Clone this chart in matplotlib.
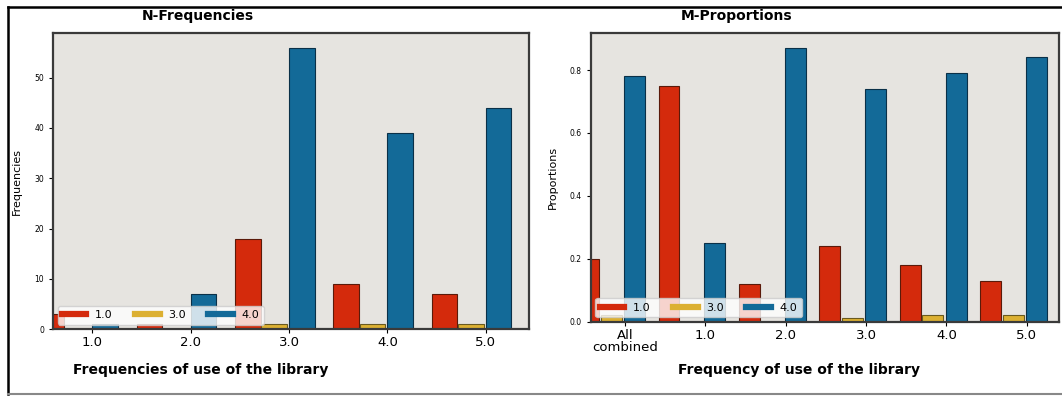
import numpy as np
import matplotlib
matplotlib.use('Agg')
import matplotlib.pyplot as plt
from matplotlib.lines import Line2D

# datos
categorias_n = ['1.0', '2.0', '3.0', '4.0', '5.0']
frec_10 = [3, 1, 18, 9, 7]
frec_30 = [0, 0, 1, 1, 1]
frec_40 = [1, 7, 56, 39, 44]

categorias_m = ['All\ncombined', '1.0', '2.0', '3.0', '4.0', '5.0']
prop_10 = [0.20, 0.75, 0.12, 0.24, 0.18, 0.13]
prop_30 = [0.02, 0.0, 0.0, 0.01, 0.02, 0.02]
prop_40 = [0.78, 0.25, 0.87, 0.74, 0.79, 0.84]

etiquetas = ['1.0', '3.0', '4.0']
colores = ['#d42a0c', '#dcb032', '#136a98']
bordes = ['#5a1a0a', '#6a5a20', '#0a3048']
fondo = '#e6e4e0'

fig = plt.figure(figsize=(10.62, 3.97), dpi=100)
ax1 = fig.add_axes([0.050, 0.171, 0.448, 0.746])
ax2 = fig.add_axes([0.5565, 0.190, 0.4407, 0.727])


def dibujar(ax, x, series, desplaz, ancho):
    for serie, d, col, bor, lab in zip(series, desplaz, colores, bordes, etiquetas):
        ax.bar(x + d, serie, width=ancho, color=col, edgecolor=bor, linewidth=0.8, label=lab, zorder=2)
    ax.set_facecolor(fondo)
    for s in ax.spines.values():
        s.set_color('#3a3a3a')
        s.set_linewidth(1.6)
    ax.tick_params(axis='y', labelsize=5.5, length=3, width=0.8)
    ax.tick_params(axis='x', labelsize=9.5, length=3, width=0.8, pad=2)
    # legend con lineas gruesas
    handles = [Line2D([0], [0], color=c, lw=4.5) for c in colores]
    leg = ax.legend(handles, etiquetas, loc='lower left', ncol=3, fontsize=8,
                    frameon=True, framealpha=0.8, handlelength=2.2, columnspacing=2.0,
                    borderaxespad=0.4, borderpad=0.4, handletextpad=0.8)
    leg.get_frame().set_edgecolor('#cccccc')


# --- panel izquierdo: N-Frequencies ---
x1 = np.arange(1, len(categorias_n) + 1)
dibujar(ax1, x1, [frec_10, frec_30, frec_40], [-0.42, -0.15, 0.13], 0.26)
ax1.set_xticks(x1)
ax1.set_xticklabels(categorias_n)
ax1.set_xlim(0.6, 5.44)
ax1.set_ylim(0, 58.9)
ax1.set_yticks([0, 10, 20, 30, 40, 50])
ax1.set_ylabel('Frequencies', fontsize=8)
ax1.yaxis.set_label_coords(-0.065, 0.5)
ax1.set_xlabel('Frequencies of use of the library', fontsize=10, fontweight='bold')
ax1.xaxis.set_label_coords(0.31, -0.115)
ax1.text(0.305, 1.035, 'N-Frequencies', transform=ax1.transAxes, ha='center', va='bottom',
         fontsize=10, fontweight='bold')

# --- panel derecho: M-Proportions ---
x2 = np.arange(len(categorias_m))
dibujar(ax2, x2, [prop_10, prop_30, prop_40], [-0.45, -0.17, 0.12], 0.26)
ax2.set_xticks(x2)
ax2.set_xticklabels(categorias_m, linespacing=0.95)
ax2.set_xlim(-0.42, 5.4)
ax2.set_ylim(0, 0.918)
ax2.set_yticks([0.0, 0.2, 0.4, 0.6, 0.8])
ax2.set_ylabel('Proportions', fontsize=8)
ax2.yaxis.set_label_coords(-0.07, 0.5)
ax2.set_xlabel('Frequency of use of the library', fontsize=10, fontweight='bold')
ax2.xaxis.set_label_coords(0.445, -0.145)
ax2.text(0.31, 1.035, 'M-Proportions', transform=ax2.transAxes, ha='center', va='bottom',
         fontsize=10, fontweight='bold')

# marco exterior
fig.add_artist(Line2D([8 / 1062, 1.0], [1 - 7 / 397, 1 - 7 / 397], color='black', lw=1.8))
fig.add_artist(Line2D([8 / 1062, 8 / 1062], [1 - 7 / 397, 1 - 394 / 397], color='black', lw=1.8))
fig.add_artist(Line2D([8 / 1062, 1.0], [1 - 394 / 397, 1 - 394 / 397], color='#888888', lw=1.5))

fig.savefig('out.png', dpi=100)
